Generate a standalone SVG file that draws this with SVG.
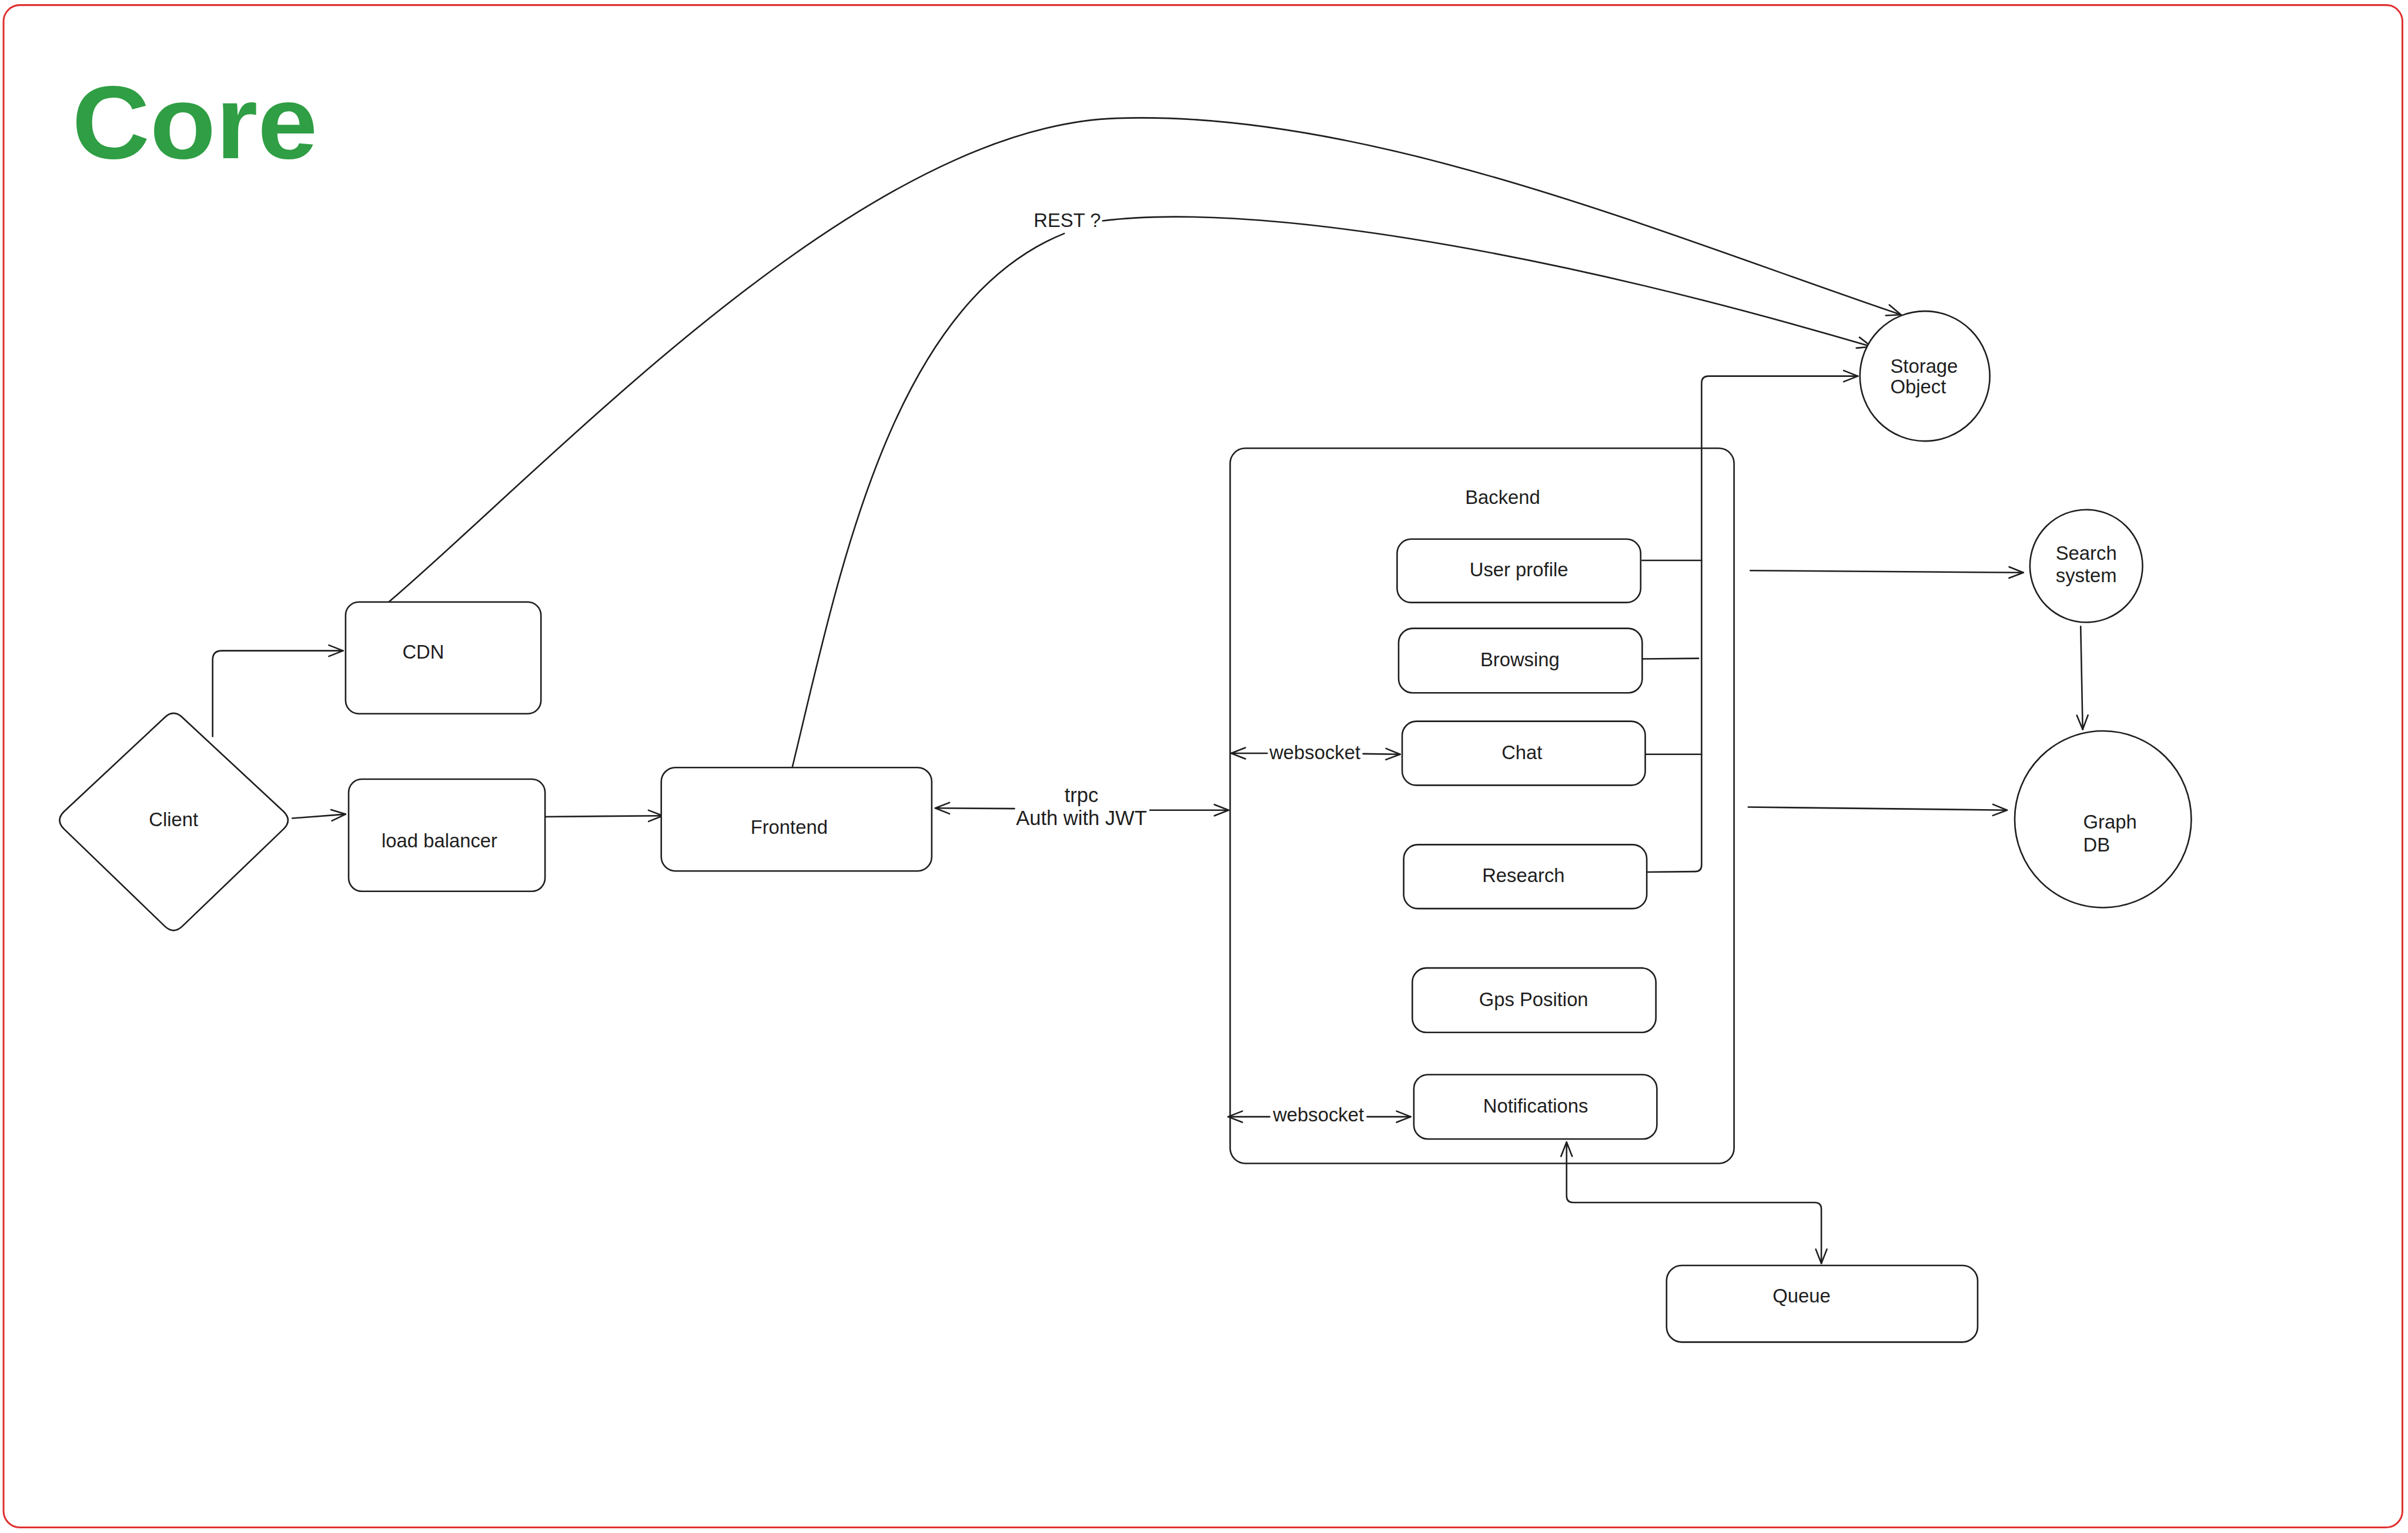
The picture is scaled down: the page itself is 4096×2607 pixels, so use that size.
<svg xmlns="http://www.w3.org/2000/svg" width="4096" height="2607" viewBox="0 0 4096 2607">
<defs>
<style>
.box{fill:#ffffff;stroke:#1e1e1e;stroke-width:3}
.frame{fill:none;stroke:#1e1e1e;stroke-width:3}
.ln{fill:none;stroke:#1e1e1e;stroke-width:3;stroke-linecap:round;stroke-linejoin:round}
.t{font-family:"Liberation Sans",Arial,sans-serif;font-size:38px;fill:#1e1e1e;text-anchor:middle}
.tl{font-family:"Liberation Sans",Arial,sans-serif;font-size:38px;fill:#1e1e1e;text-anchor:start}
.ts{font-family:"Liberation Sans",Arial,sans-serif;font-size:40px;fill:#1e1e1e;text-anchor:middle}
</style>
<marker id="ah" markerUnits="userSpaceOnUse" viewBox="0 0 32 26" refX="30" refY="13" markerWidth="32" markerHeight="26" orient="auto-start-reverse">
<path d="M2,2 L30,13 L2,24" fill="none" stroke="#1e1e1e" stroke-width="3" stroke-linecap="round" stroke-linejoin="round"/>
</marker>
</defs>
<rect width="4096" height="2607" fill="#ffffff"/>
<g transform="scale(0.86322)">
<rect id="frame" x="7" y="10" width="4727" height="2999" rx="32" fill="none" stroke="#e03131" stroke-width="3.5"/>
<text id="title" x="142" y="312" font-family="Liberation Sans, Arial, sans-serif" font-weight="bold" font-size="204" fill="#2f9e44" textLength="484" lengthAdjust="spacingAndGlyphs">Core</text>

<g id="backend">
<rect class="frame" x="2424" y="883" width="993" height="1409" rx="30"/>
<text class="t" x="2961" y="993">Backend</text>
</g>

<g id="connectors">
<path class="ln" d="M419,1451 L419,1300 Q419,1282 437,1282 L676,1282" marker-end="url(#ah)"/>
<path class="ln" d="M576,1612 L681,1604" marker-end="url(#ah)"/>
<path class="ln" d="M1069,1609 L1306,1607" marker-end="url(#ah)"/>
<path class="ln" d="M1999,1593 L1843,1592" marker-end="url(#ah)"/>
<path class="ln" d="M2266,1596 L2421,1596" marker-end="url(#ah)"/>
<path class="ln" d="M2497,1484 L2426,1484" marker-end="url(#ah)"/>
<path class="ln" d="M2686,1485 L2759,1486" marker-end="url(#ah)"/>
<path class="ln" d="M2502,2200 L2420,2200" marker-end="url(#ah)"/>
<path class="ln" d="M2694,2200 L2780,2200" marker-end="url(#ah)"/>
<path class="ln" d="M3236,1104 L3353,1104"/>
<path class="ln" d="M3233,1298 L3347,1297"/>
<path class="ln" d="M3242,1486 L3353,1486"/>
<path class="ln" d="M3247,1718 L3340,1717 Q3353,1717 3353,1704 L3353,755 Q3353,741 3367,741 L3661,741" marker-end="url(#ah)"/>
<path class="ln" d="M3449,1124 L3987,1128" marker-end="url(#ah)"/>
<path class="ln" d="M3445,1590 L3955,1596" marker-end="url(#ah)"/>
<path class="ln" d="M4100,1234 L4104,1437" marker-end="url(#ah)"/>
<path class="ln" d="M3087,2250 L3087,2356 Q3087,2369 3100,2369 L3576,2369 Q3589,2369 3589,2382 L3589,2489" marker-start="url(#ah)" marker-end="url(#ah)"/>
<path class="ln" d="M766,1186 C1100,900 1700,250 2200,233 C2700,215 3300,470 3746,620" marker-end="url(#ah)"/>
<path class="ln" d="M1557,1529 C1650,1150 1750,600 2097,460"/>
<path class="ln" d="M2173,435 C2450,400 3000,480 3688,683" marker-end="url(#ah)"/>
<text class="ts" x="2131" y="1580">trpc</text>
<text class="ts" x="2131" y="1625">Auth with JWT</text>
<text class="t" x="2591" y="1495">websocket</text>
<text class="t" x="2598" y="2209">websocket</text>
<text class="t" x="2103" y="447">REST ?</text>
</g>

<g id="client">
<path class="box" d="M126,1599 L325,1413 Q342,1397 359,1413 L559,1599 Q576,1616 559,1633 L359,1825 Q342,1841 325,1825 L126,1633 Q109,1616 126,1599 Z"/>
<text class="t" x="342" y="1628">Client</text>
</g>
<g id="cdn">
<rect class="box" x="681" y="1186" width="385" height="220" rx="26"/>
<text class="t" x="834" y="1297">CDN</text>
</g>
<g id="load-balancer">
<rect class="box" x="687" y="1535" width="387" height="221" rx="26"/>
<text class="t" x="866" y="1669">load balancer</text>
</g>
<g id="frontend">
<rect class="box" x="1303" y="1512" width="533" height="204" rx="28"/>
<text class="t" x="1555" y="1643">Frontend</text>
</g>
<g id="user-profile">
<rect class="box" x="2753" y="1062" width="480" height="125" rx="28"/>
<text class="t" x="2993" y="1135">User profile</text>
</g>
<g id="browsing">
<rect class="box" x="2756" y="1238" width="480" height="127" rx="28"/>
<text class="t" x="2995" y="1313">Browsing</text>
</g>
<g id="chat">
<rect class="box" x="2763" y="1421" width="479" height="126" rx="28"/>
<text class="t" x="2999" y="1495">Chat</text>
</g>
<g id="research">
<rect class="box" x="2766" y="1664" width="479" height="126" rx="28"/>
<text class="t" x="3002" y="1738">Research</text>
</g>
<g id="gps-position">
<rect class="box" x="2783" y="1907" width="480" height="127" rx="28"/>
<text class="t" x="3022" y="1982">Gps Position</text>
</g>
<g id="notifications">
<rect class="box" x="2786" y="2117" width="479" height="127" rx="28"/>
<text class="t" x="3026" y="2192">Notifications</text>
</g>
<g id="queue">
<rect class="box" x="3284" y="2493" width="613" height="151" rx="30"/>
<text class="t" x="3550" y="2566">Queue</text>
</g>
<g id="storage-object">
<circle class="box" cx="3793" cy="741" r="128"/>
<text class="tl" x="3725" y="734">Storage</text>
<text class="tl" x="3725" y="775">Object</text>
</g>
<g id="search-system">
<circle class="box" cx="4111" cy="1115" r="111"/>
<text class="t" x="4111" y="1103">Search</text>
<text class="t" x="4111" y="1147">system</text>
</g>
<g id="graph-db">
<circle class="box" cx="4144" cy="1614" r="174"/>
<text class="tl" x="4105" y="1632">Graph</text>
<text class="tl" x="4105" y="1677">DB</text>
</g>
</g>
</svg>
